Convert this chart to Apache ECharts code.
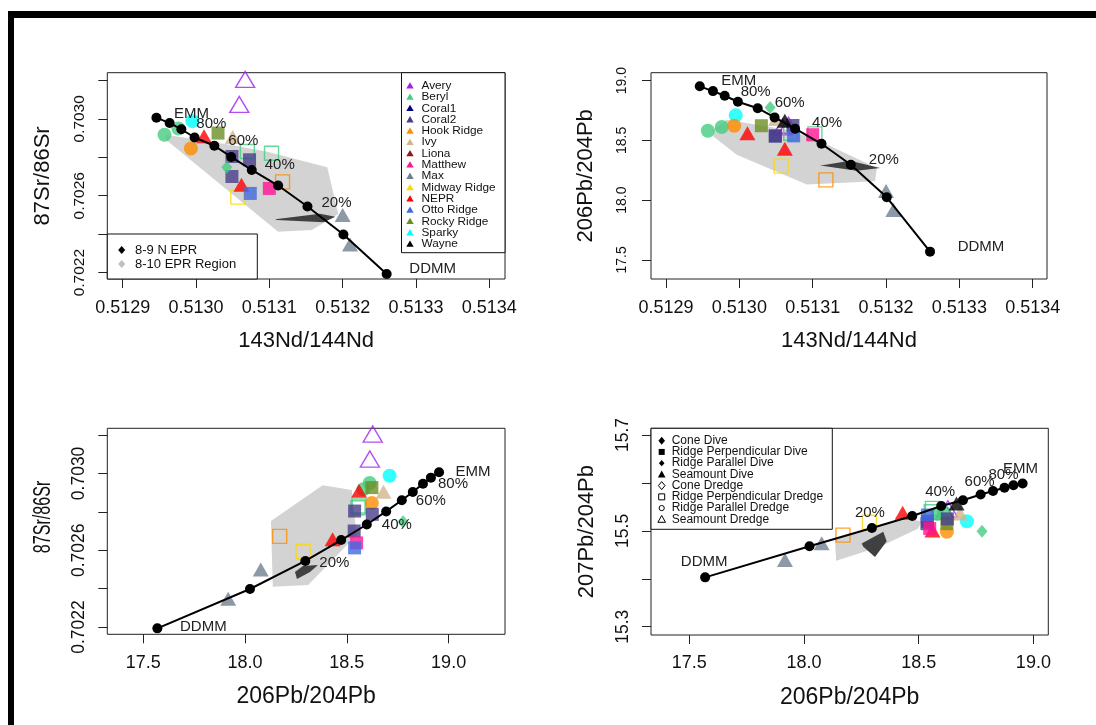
<!DOCTYPE html>
<html><head><meta charset="utf-8">
<script src="https://cdn.jsdelivr.net/npm/echarts@6/dist/echarts.min.js"></script>
<style>html,body{margin:0;padding:0;background:#fff}#c{width:1096px;height:725px}</style>
</head><body><div id="c"></div>
<script>
const FONT = '"Liberation Sans", Arial, Helvetica, sans-serif';

// ---- Mixing model, EMM (100%) -> DDMM (0%) in 10% steps ----
const mixNd    = [0.512946, 0.512964, 0.512980, 0.512998, 0.513025, 0.513048, 0.513076, 0.513112, 0.513152, 0.513201, 0.513260];
const mixSr    = [0.703006, 0.702978, 0.702946, 0.702903, 0.702860, 0.702802, 0.702734, 0.702653, 0.702544, 0.702398, 0.702193];
const mixPb206 = [18.953, 18.913, 18.874, 18.824, 18.770, 18.693, 18.598, 18.472, 18.296, 18.024, 17.569];
const mixPb207 = [15.599, 15.595, 15.590, 15.583, 15.576, 15.564, 15.552, 15.531, 15.506, 15.468, 15.403];
const mixLabels = ['EMM', '', '80%', '', '60%', '', '40%', '', '20%', '', 'DDMM'];

// ---- Sample locations (legend) ----
const locations = ['Avery','Beryl','Coral1','Coral2','Hook Ridge','Ivy','Liona','Matthew','Max','Midway Ridge','NEPR','Otto Ridge','Rocky Ridge','Sparky','Wayne'];
const locationColors = ['#A020F0','#43CD80','#000080','#483D8B','#FF8C00','#D2B48C','#8B1A1A','#FF1493','#708090','#FFD700','#FF0000','#4169E1','#6B8E23','#00FFFF','#000000'];
const sampleTypes = ['Cone Dive','Ridge Perpendicular Dive','Ridge Parallel Dive','Seamount Dive','Cone Dredge','Ridge Perpendicular Dredge','Ridge Parallel Dredge','Seamount Dredge'];

// ---- Samples ----
const sampleLoc  = ['Avery','Avery','Midway Ridge','Hook Ridge','Beryl','Beryl','Beryl','Beryl','Sparky','Hook Ridge','Rocky Ridge','Ivy','Coral2','Coral2','NEPR','Coral2','NEPR','Matthew','Otto Ridge','Beryl','Max','Max','Wayne'];
const sampleType = ['Seamount Dredge','Seamount Dredge','Ridge Perpendicular Dredge','Ridge Perpendicular Dredge','Ridge Perpendicular Dredge','Ridge Perpendicular Dredge',
  'Ridge Parallel Dive','Ridge Parallel Dive','Ridge Parallel Dive','Ridge Parallel Dive','Ridge Perpendicular Dive','Seamount Dive',
  'Ridge Perpendicular Dive','Ridge Perpendicular Dive','Seamount Dive','Ridge Perpendicular Dive','Seamount Dive','Ridge Perpendicular Dive',
  'Ridge Perpendicular Dive','Cone Dive','Seamount Dive','Seamount Dive','Seamount Dive'];
const sampleNd    = [0.513067,0.513059,0.513057,0.513118,0.513070,0.513103,0.512957,0.512976,0.512995,0.512993,0.513030,0.513050,0.513049,0.513073,0.513011,0.513049,0.513062,0.513100,0.513074,0.513042,0.513200,0.513210,0.513062];
const sampleSr    = [0.703205,0.703075,0.702593,0.702672,0.702830,0.702821,0.702917,0.702950,0.702988,0.702846,0.702926,0.702905,0.702804,0.702787,0.702910,0.702700,0.702657,0.702638,0.702612,0.702748,0.702500,0.702347,null];
const samplePb206 = [18.627,18.613,18.285,18.170,18.560,18.555,18.581,18.612,18.710,18.623,18.623,18.680,18.538,18.625,18.560,18.536,18.430,18.548,18.538,18.776,18.077,17.917,18.665];
const samplePb207 = [15.546,15.541,15.518,15.491,15.547,15.540,15.535,15.538,15.520,15.498,15.515,15.536,15.520,15.525,15.501,15.515,15.538,15.505,15.533,15.499,15.474,15.439,15.557];

// ---- 8-10 EPR region outlines ----
const regionNdSr = [[0.512959,0.702917],[0.513046,0.702865],[0.513096,0.702830],[0.513179,0.702748],[0.513194,0.702505],[0.513158,0.702422],[0.513112,0.702413],[0.512959,0.702891]];
const coreNdSr   = [[0.513108,0.702478],[0.513169,0.702507],[0.513190,0.702491],[0.513174,0.702462],[0.513110,0.702474]];
const regionNdPb = [[0.5129637,18.589],[0.5129828,18.6725],[0.5130647,18.589],[0.5131056,18.506],[0.5131875,18.270],[0.5131851,18.158],[0.5130920,18.131],[0.5129965,18.381],[0.5129645,18.533]];
const coreNdPb   = [[0.5131091,18.289],[0.5131510,18.330],[0.5131919,18.270],[0.5131601,18.246],[0.5131124,18.289]];
const regionPbSr = [[18.127,0.702752],[18.381,0.702939],[18.524,0.702913],[18.548,0.702679],[18.310,0.702419],[18.136,0.702410]];
const corePbSr   = [[18.245,0.702487],[18.284,0.702518],[18.358,0.702523],[18.319,0.702487],[18.255,0.702450]];
const regionPbPb = [[18.135,15.4827],[18.448,15.5259],[18.513,15.5203],[18.498,15.505],[18.331,15.4666],[18.140,15.4374]];
const corePbPb   = [[18.2515,15.4737],[18.3457,15.4979],[18.3605,15.4785],[18.3095,15.4457],[18.2585,15.4666]];

// ---- Ticks ----
const ndTicks = [0.5129,0.5130,0.5131,0.5132,0.5133,0.5134];
const srTicks = [0.7022,0.7024,0.7026,0.7028,0.7030,0.7032];
const srLabels = [0.7022,0.7026,0.7030];
const pb206Ticks = [17.5,18.0,18.5,19.0];
const pb207Ticks = [15.3,15.4,15.5,15.6,15.7];
const pb207Labels = [15.3,15.5,15.7];

const typeStyle = {
  'Cone Dive': {symbol:'diamond', size:[11,13], open:false},
  'Ridge Perpendicular Dive': {symbol:'rect', size:13, open:false},
  'Ridge Parallel Dive': {symbol:'circle', size:14, open:false},
  'Seamount Dive': {symbol:'triangle', size:[16,14], open:false},
  'Cone Dredge': {symbol:'diamond', size:[11,13], open:true},
  'Ridge Perpendicular Dredge': {symbol:'rect', size:14, open:true},
  'Ridge Parallel Dredge': {symbol:'circle', size:14, open:true},
  'Seamount Dredge': {symbol:'triangle', size:[19,16], open:true}
};

const panels = [
  { grid:{left:107.3, top:72.7, width:397.7, height:206.3},
    x:{min:0.512879, max:0.5134214, ticks:ndTicks, labels:ndTicks, dec:4, fs:18, margin:20, name:'143Nd/144Nd', nameGap:51},
    y:{min:0.702167, max:0.70324, ticks:srTicks, labels:srLabels, dec:4, fs:15.5, margin:20, name:'87Sr/86Sr', nameGap:53},
    xs:sampleNd, ys:sampleSr, mx:mixNd, my:mixSr, region:regionNdSr, core:coreNdSr,
    lab:[[35,-4],[0,0],[30,-5],[0,0],[29,-5],[0,0],[28,-5],[0,0],[29,-4],[0,0],[46,-5]] },
  { grid:{left:651, top:72.7, width:396, height:206.3},
    x:{min:0.5128795, max:0.5134195, ticks:ndTicks, labels:ndTicks, dec:4, fs:18, margin:20, name:'143Nd/144Nd', nameGap:51},
    y:{min:17.34, max:19.067, ticks:pb206Ticks, labels:pb206Ticks, dec:1, fs:14, margin:22, name:'206Pb/204Pb', nameGap:54},
    xs:sampleNd, ys:samplePb206, mx:mixNd, my:mixPb206, region:regionNdPb, core:coreNdPb,
    lab:[[39,-5],[0,0],[31,-4],[0,0],[32,-5],[0,0],[32,-6],[0,0],[33,-5],[0,0],[51,-5]] },
  { grid:{left:107.3, top:428.3, width:397.7, height:206},
    x:{min:17.323, max:19.277, ticks:pb206Ticks, labels:pb206Ticks, dec:1, fs:18, margin:20, name:'206Pb/204Pb', nameGap:51, nameSize:23},
    y:{min:0.702162, max:0.703235, ticks:srTicks, labels:srLabels, dec:4, fs:17.5, margin:19, name:'', nameGap:53},
    xs:samplePb206, ys:sampleSr, mx:mixPb206, my:mixSr, region:regionPbSr, core:corePbSr,
    lab:[[34,0],[0,0],[30,0],[0,0],[29,1],[0,0],[30,0],[0,0],[29,2],[0,0],[46,-1]] },
  { grid:{left:651, top:428.3, width:397.3, height:206.7},
    x:{min:17.333, max:19.065, ticks:pb206Ticks, labels:pb206Ticks, dec:1, fs:18, margin:19, name:'206Pb/204Pb', nameGap:51, nameSize:23},
    y:{min:15.2827, max:15.714, ticks:pb207Ticks, labels:pb207Labels, dec:1, fs:17.5, margin:19, name:'207Pb/204Pb', nameGap:53},
    xs:samplePb206, ys:samplePb207, mx:mixPb206, my:mixPb207, region:regionPbPb, core:corePbPb,
    lab:[[-2,-15],[0,0],[-1,-13],[0,0],[-1,-13],[0,0],[-1,-14],[0,0],[-2,-15],[0,0],[-1,-15]] }
];

function makeAxis(dim, gi, a) {
  return {
    type:'value', gridIndex:gi, min:a.min, max:a.max, position: dim==='x'?'bottom':'left',
    axisLine:{show:false}, splitLine:{show:false},
    axisTick:{show:true, customValues:a.ticks, length:9, inside:false, lineStyle:{color:'#222', width:1}},
    axisLabel:{show:true, customValues:a.labels, formatter:(v)=>Number(v).toFixed(a.dec),
      fontSize:a.fs, fontFamily:FONT, color:'#111', margin:a.margin, rotate: dim==='y'?90:0},
    name:a.name, nameLocation:'middle', nameGap:a.nameGap,
    nameTextStyle:{fontSize:a.nameSize||22, fontFamily:FONT, color:'#111'}
  };
}
function polySeries(gi, pts, color, z) {
  return { type:'custom', xAxisIndex:gi, yAxisIndex:gi, z:z, silent:true, clip:false,
    data:[pts[0]],
    renderItem:(params, api)=>({type:'polygon', shape:{points:pts.map(p=>api.coord(p))}, style:{fill:color}})
  };
}

const option = {animation:false, backgroundColor:'#fff', grid:[], xAxis:[], yAxis:[], series:[], graphic:[]};

panels.forEach((p, gi) => {
  option.grid.push(Object.assign({show:true, borderColor:'#222', borderWidth:1, backgroundColor:'transparent'}, p.grid));
  option.xAxis.push(makeAxis('x', gi, p.x));
  option.yAxis.push(makeAxis('y', gi, p.y));
  option.series.push(polySeries(gi, p.region, '#D3D3D3', 1));
  option.series.push(polySeries(gi, p.core, '#404040', 2));
  const pts = [];
  for (let k = 0; k < sampleLoc.length; k++) {
    if (p.xs[k] == null || p.ys[k] == null) continue;
    const st = typeStyle[sampleType[k]];
    const col = locationColors[locations.indexOf(sampleLoc[k])];
    pts.push({ value:[p.xs[k], p.ys[k]], symbol:st.symbol, symbolSize:st.size,
      itemStyle: st.open ? {color:'rgba(0,0,0,0)', borderColor:col, borderWidth:1.4} : {color:col, borderWidth:0} });
  }
  option.series.push({type:'scatter', xAxisIndex:gi, yAxisIndex:gi, z:3, silent:true, data:pts});
  const mix = p.mx.map((v, i) => {
    const item = {value:[v, p.my[i]]};
    if (mixLabels[i]) {
      item.label = {show:true, formatter:mixLabels[i], position:[5 + p.lab[i][0], 5 + p.lab[i][1]],
        align:'center', verticalAlign:'middle', fontSize:15, fontFamily:FONT, color:'#222'};
    }
    return item;
  });
  option.series.push({type:'line', xAxisIndex:gi, yAxisIndex:gi, z:5, silent:true, data:mix,
    symbol:'circle', symbolSize:10, showAllSymbol:true,
    lineStyle:{color:'#000', width:2}, itemStyle:{color:'#000'}, label:{show:false}});
});

// ---- Graphic: frame and legends ----
const G = option.graphic;
G.push({type:'rect', z:100, shape:{x:8, y:11, width:1088, height:7}, style:{fill:'#000'}});
G.push({type:'rect', z:100, shape:{x:8, y:11, width:6, height:714}, style:{fill:'#000'}});

function txt(x, y, s, size, extra) {
  return Object.assign({type:'text', z:101, x:x, y:y,
    style:{text:s, fontSize:size, fontFamily:FONT, fill:'#111', align:'left', verticalAlign:'middle'}}, extra||{});
}
// Location legend (top-left panel, right side)
G.push({type:'rect', z:100, shape:{x:401.5, y:72.7, width:103.5, height:180}, style:{fill:'#fff', stroke:'#111', lineWidth:1}});
locations.forEach((name, i) => {
  const y = 85.7 + i * 11.3;
  G.push({type:'polygon', z:101, shape:{points:[[410, y-3.5],[406.3, y+2.8],[413.7, y+2.8]]}, style:{fill:locationColors[i]}});
  G.push(txt(421.5, y, name, 11.8));
});
// Reference legend (top-left panel, bottom-left corner)
G.push({type:'rect', z:100, shape:{x:107.3, y:234, width:150, height:45}, style:{fill:'#fff', stroke:'#111', lineWidth:1}});
[['8-9 N EPR','#000', 250],['8-10 EPR Region','#BEBEBE', 264]].forEach(([s, c, y]) => {
  G.push({type:'polygon', z:101, shape:{points:[[121.7, y-4],[125.2, y],[121.7, y+4],[118.2, y]]}, style:{fill:c}});
  G.push(txt(135, y, s, 13));
});
// Sample type legend (bottom-right panel)
G.push({type:'rect', z:100, shape:{x:651, y:428.3, width:181.3, height:101}, style:{fill:'#fff', stroke:'#111', lineWidth:1}});
sampleTypes.forEach((name, i) => {
  const y = 440.7 + i * 11.23, x = 661.7;
  const filled = i < 4;
  const st = filled ? {fill:'#000'} : {fill:'none', stroke:'#000', lineWidth:1};
  const kind = i % 4;
  let el;
  if (kind === 0) el = {type:'polygon', shape:{points:[[x, y-4],[x+3.3, y],[x, y+4],[x-3.3, y]]}};
  else if (kind === 1) el = {type:'rect', shape:{x:x-3, y:y-3, width:6, height:6}};
  else if (kind === 2) el = filled ? {type:'polygon', shape:{points:[[x, y-3.2],[x+2.8, y],[x, y+3.2],[x-2.8, y]]}} : {type:'circle', shape:{cx:x, cy:y, r:2.6}};
  else el = {type:'polygon', shape:{points:[[x, y-3.8],[x-3.8, y+3],[x+3.8, y+3]]}};
  el.z = 101; el.style = st;
  G.push(el);
  G.push(txt(671.7, y, name, 12));
});
// Bottom-left y-axis title (narrow in the original)
G.push({type:'text', z:101, x:44, y:517, rotation:Math.PI/2, scaleX:0.7,
  style:{text:'87Sr/86Sr', fontSize:23, fontFamily:FONT, fill:'#111', align:'center', verticalAlign:'middle'}});

const chart = echarts.init(document.getElementById('c'), null, {renderer:'canvas', width:1096, height:725});
chart.setOption(option);
</script></body></html>
